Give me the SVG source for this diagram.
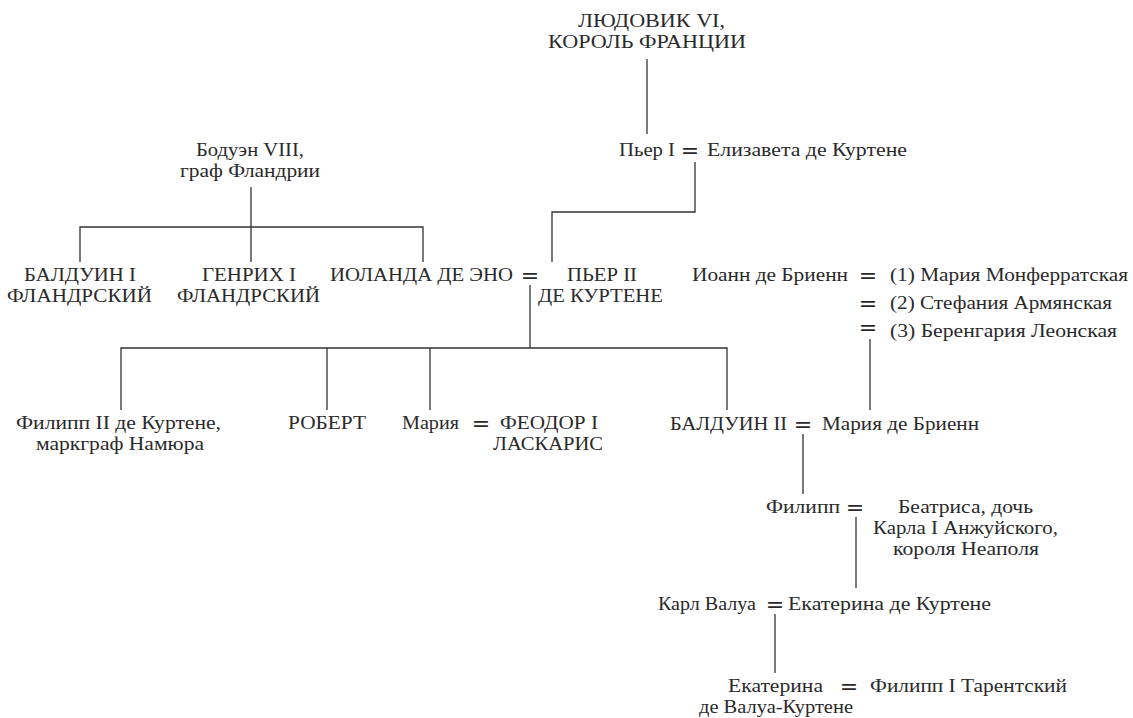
<svg xmlns="http://www.w3.org/2000/svg" width="1133" height="718" viewBox="0 0 1133 718">
<style>
  .t { font-family: 'Liberation Serif', 'DejaVu Serif', serif; font-size: 18.5px; fill: #2a2a2a; }
  .eq { font-family: 'DejaVu Sans', sans-serif; font-size: 22px; fill: #2a2a2a; text-anchor: middle; }
  .c { stroke: #333; stroke-width: 1.3; fill: none; }
</style>
<rect width="1133" height="718" fill="#ffffff"/>

<g id="connectors" class="c">
  <path d="M647 59V134"/>
  <path d="M695 162V212H552V262"/>
  <path d="M251 187V227"/>
  <path d="M80 262V227H423V262"/>
  <path d="M251 227V262"/>
  <path d="M530 285V348"/>
  <path d="M121 410V348H727V410"/>
  <path d="M327 348V410"/>
  <path d="M430 348V410"/>
  <path d="M870 339V410"/>
  <path d="M803 434V494"/>
  <path d="M856 517V588"/>
  <path d="M775 614V673"/>
</g>

<g id="ludovik">
  <text class="t" x="578" y="27" textLength="147" lengthAdjust="spacingAndGlyphs">ЛЮДОВИК VI,</text>
  <text class="t" x="548" y="48" textLength="198" lengthAdjust="spacingAndGlyphs">КОРОЛЬ ФРАНЦИИ</text>
</g>

<g id="pierre1-elisabeth">
  <text class="t" x="619" y="156" textLength="56" lengthAdjust="spacingAndGlyphs">Пьер I</text>
  <text class="eq" x="690" y="158">=</text>
  <text class="t" x="707" y="156" textLength="200" lengthAdjust="spacingAndGlyphs">Елизавета де Куртене</text>
</g>

<g id="baudouin8">
  <text class="t" x="196" y="156" textLength="108" lengthAdjust="spacingAndGlyphs">Бодуэн VIII,</text>
  <text class="t" x="180" y="177" textLength="140" lengthAdjust="spacingAndGlyphs">граф Фландрии</text>
</g>

<g id="baudouin1">
  <text class="t" x="24" y="281" textLength="112" lengthAdjust="spacingAndGlyphs">БАЛДУИН I</text>
  <text class="t" x="7" y="302" textLength="145" lengthAdjust="spacingAndGlyphs">ФЛАНДРСКИЙ</text>
</g>

<g id="henri1">
  <text class="t" x="202" y="281" textLength="94" lengthAdjust="spacingAndGlyphs">ГЕНРИХ I</text>
  <text class="t" x="177" y="302" textLength="143" lengthAdjust="spacingAndGlyphs">ФЛАНДРСКИЙ</text>
</g>

<g id="yolande-pierre2">
  <text class="t" x="330" y="281" textLength="183" lengthAdjust="spacingAndGlyphs">ИОЛАНДА ДЕ ЭНО</text>
  <text class="eq" x="530" y="283">=</text>
  <text class="t" x="567" y="281" textLength="70" lengthAdjust="spacingAndGlyphs">ПЬЕР II</text>
  <text class="t" x="538" y="302" textLength="125" lengthAdjust="spacingAndGlyphs">ДЕ КУРТЕНЕ</text>
</g>

<g id="jean-brienne">
  <text class="t" x="692" y="281" textLength="156" lengthAdjust="spacingAndGlyphs">Иоанн де Бриенн</text>
  <text class="eq" x="868" y="283">=</text>
  <text class="t" x="890" y="281" textLength="238" lengthAdjust="spacingAndGlyphs">(1) Мария Монферратская</text>
  <text class="eq" x="868" y="311">=</text>
  <text class="t" x="890" y="309" textLength="222" lengthAdjust="spacingAndGlyphs">(2) Стефания Армянская</text>
  <text class="eq" x="868" y="335">=</text>
  <text class="t" x="890" y="337" textLength="227" lengthAdjust="spacingAndGlyphs">(3) Беренгария Леонская</text>
</g>

<g id="philippe2">
  <text class="t" x="16" y="429" textLength="205" lengthAdjust="spacingAndGlyphs">Филипп II де Куртене,</text>
  <text class="t" x="36" y="450" textLength="168" lengthAdjust="spacingAndGlyphs">маркграф Намюра</text>
</g>

<g id="robert">
  <text class="t" x="288" y="429" textLength="78" lengthAdjust="spacingAndGlyphs">РОБЕРТ</text>
</g>

<g id="marie-theodore">
  <text class="t" x="402" y="429" textLength="57" lengthAdjust="spacingAndGlyphs">Мария</text>
  <text class="eq" x="481" y="431">=</text>
  <text class="t" x="500" y="429" textLength="98" lengthAdjust="spacingAndGlyphs">ФЕОДОР I</text>
  <text class="t" x="493" y="450" textLength="110" lengthAdjust="spacingAndGlyphs">ЛАСКАРИС</text>
</g>

<g id="baudouin2-marie">
  <text class="t" x="670" y="430" textLength="117" lengthAdjust="spacingAndGlyphs">БАЛДУИН II</text>
  <text class="eq" x="803" y="432">=</text>
  <text class="t" x="822" y="430" textLength="157" lengthAdjust="spacingAndGlyphs">Мария де Бриенн</text>
</g>

<g id="philippe-beatrice">
  <text class="t" x="766" y="513" textLength="74" lengthAdjust="spacingAndGlyphs">Филипп</text>
  <text class="eq" x="855" y="515">=</text>
  <text class="t" x="898" y="513" textLength="135" lengthAdjust="spacingAndGlyphs">Беатриса, дочь</text>
  <text class="t" x="873" y="534" textLength="185" lengthAdjust="spacingAndGlyphs">Карла I Анжуйского,</text>
  <text class="t" x="893" y="555" textLength="146" lengthAdjust="spacingAndGlyphs">короля Неаполя</text>
</g>

<g id="charles-catherine">
  <text class="t" x="658" y="610" textLength="98" lengthAdjust="spacingAndGlyphs">Карл Валуа</text>
  <text class="eq" x="775" y="612">=</text>
  <text class="t" x="788" y="610" textLength="203" lengthAdjust="spacingAndGlyphs">Екатерина де Куртене</text>
</g>

<g id="catherine-philippe">
  <text class="t" x="728" y="692" textLength="95" lengthAdjust="spacingAndGlyphs">Екатерина</text>
  <text class="eq" x="849" y="694">=</text>
  <text class="t" x="870" y="692" textLength="197" lengthAdjust="spacingAndGlyphs">Филипп I Тарентский</text>
  <text class="t" x="699" y="713" textLength="154" lengthAdjust="spacingAndGlyphs">де Валуа-Куртене</text>
</g>
</svg>
